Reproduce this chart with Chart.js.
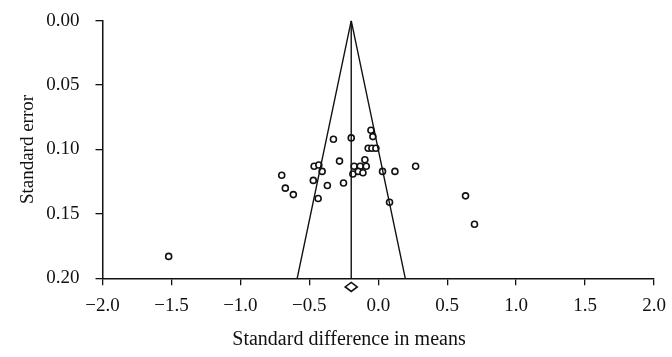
<!DOCTYPE html>
<html>
<head>
<meta charset="utf-8">
<script src="https://cdn.jsdelivr.net/npm/chart.js@4"></script>
<style>
  html, body { margin: 0; padding: 0; background: #fff; }
  #wrap { width: 672px; height: 357px; }
</style>
</head>
<body>
<div id="wrap"><canvas id="funnelChart" width="672" height="357"></canvas></div>
<script>
// study effects
const effectSizes = [
  -0.325, -0.196, -0.053, -0.039, -0.073, -0.046, -0.017, -0.281,
  -0.465, -0.431, -0.407, -0.471, -0.369, -0.252, -0.436,
  -0.175, -0.131, -0.097, -0.087, -0.184, -0.145, -0.111,
  0.031, 0.121, 0.271, 0.082, -0.700, -0.674, -0.616,
  0.633, 0.698, -1.520
];
const standardErrors = [
  0.092, 0.091, 0.085, 0.090, 0.099, 0.099, 0.099, 0.109,
  0.113, 0.112, 0.117, 0.124, 0.128, 0.126, 0.138,
  0.113, 0.113, 0.108, 0.113, 0.119, 0.117, 0.118,
  0.117, 0.117, 0.113, 0.141, 0.120, 0.130, 0.135,
  0.136, 0.158, 0.183
];

// funnel outline and pooled estimate
const funnelX = [-0.588, -0.196, 0.196];
const funnelY = [0.20, 0.00, 0.20];
const pooledX = [-0.196, -0.196];
const pooledY = [0.00, 0.20];
const diamondX = [-0.196];
const diamondY = [0.2067];

const xTicks = [-2.0, -1.5, -1.0, -0.5, 0.0, 0.5, 1.0, 1.5, 2.0];
const yTicks = [0.00, 0.05, 0.10, 0.15, 0.20];

const serif = "'Liberation Serif', 'DejaVu Serif', serif";
const ink = '#111';

function toPoints(xs, ys) {
    return xs.map((x, i) => ({ x: x, y: ys[i] }));
}

// x title sits left of the plot centre, so it is drawn by hand
const xTitlePlugin = {
    id: 'xTitle',
    afterDraw(chart) {
        const ctx = chart.ctx;
        ctx.save();
        ctx.font = '20px ' + serif;
        ctx.fillStyle = ink;
        ctx.textAlign = 'center';
        ctx.textBaseline = 'middle';
        ctx.fillText('Standard difference in means', 349, 340);
        ctx.restore();
    }
};

// summary diamond sits below the axis, outside the area where points get drawn
const diamondPlugin = {
    id: 'summaryDiamond',
    afterDatasetsDraw(chart) {
        const ctx = chart.ctx;
        const xs = chart.scales.x, ys = chart.scales.y;
        diamondX.forEach((dx, i) => {
            const px = xs.getPixelForValue(dx);
            const py = ys.getPixelForValue(diamondY[i]);
            ctx.save();
            ctx.beginPath();
            ctx.moveTo(px, py - 4.5);
            ctx.lineTo(px + 6, py);
            ctx.lineTo(px, py + 4.5);
            ctx.lineTo(px - 6, py);
            ctx.closePath();
            ctx.fillStyle = '#fff';
            ctx.fill();
            ctx.lineWidth = 1.6;
            ctx.strokeStyle = ink;
            ctx.stroke();
            ctx.restore();
        });
    }
};

const config = {
    type: 'scatter',
    data: {
        datasets: [
            {
                label: 'Funnel',
                type: 'line',
                data: toPoints(funnelX, funnelY),
                borderColor: ink,
                borderWidth: 1.4,
                pointRadius: 0,
                fill: false,
                tension: 0
            },
            {
                label: 'Pooled',
                type: 'line',
                data: toPoints(pooledX, pooledY),
                borderColor: ink,
                borderWidth: 1.4,
                pointRadius: 0,
                fill: false
            },
            {
                label: 'Studies',
                data: toPoints(effectSizes, standardErrors),
                pointStyle: 'circle',
                pointRadius: 3,
                pointBorderWidth: 1.6,
                borderColor: ink,
                backgroundColor: '#fff'
            }
        ]
    },
    options: {
        responsive: false,
        animation: false,
        layout: { padding: { left: 0, top: 20.7, right: 18, bottom: 0 } },
        plugins: {
            legend: { display: false },
            tooltip: { enabled: false }
        },
        scales: {
            x: {
                type: 'linear',
                min: -2,
                max: 2,
                afterBuildTicks: (scale) => { scale.ticks = xTicks.map(v => ({ value: v })); },
                afterFit: (scale) => {
                    scale.height = 78.7;
                    scale.paddingLeft = 0;
                    scale.paddingRight = 0;
                },
                grid: { drawOnChartArea: false, tickLength: 7, color: ink, lineWidth: 1.3 },
                border: { color: ink, width: 1.5 },
                ticks: {
                    padding: 9,
                    color: ink,
                    font: { family: serif, size: 19 },
                    maxRotation: 0,
                    callback: (v) => (v < 0 ? '\u2212' : '') + Math.abs(v).toFixed(1)
                }
            },
            y: {
                type: 'linear',
                reverse: true,
                min: 0,
                max: 0.2,
                afterBuildTicks: (scale) => { scale.ticks = yTicks.map(v => ({ value: v })); },
                afterFit: (scale) => {
                    scale.width = 102.5;
                    scale.paddingTop = 0;
                    scale.paddingBottom = 0;
                },
                grid: { drawOnChartArea: false, tickLength: 7, color: ink, lineWidth: 1.3 },
                border: { color: ink, width: 1.5 },
                title: {
                    display: true,
                    text: 'Standard error',
                    color: ink,
                    font: { family: serif, size: 19 },
                    padding: { top: 17, bottom: 0 }
                },
                ticks: {
                    padding: 16,
                    color: ink,
                    font: { family: serif, size: 19 },
                    callback: (v) => v.toFixed(2)
                }
            }
        }
    },
    plugins: [xTitlePlugin, diamondPlugin]
};

var funnelChart = new Chart(document.getElementById('funnelChart'), config);
</script>
</body>
</html>
